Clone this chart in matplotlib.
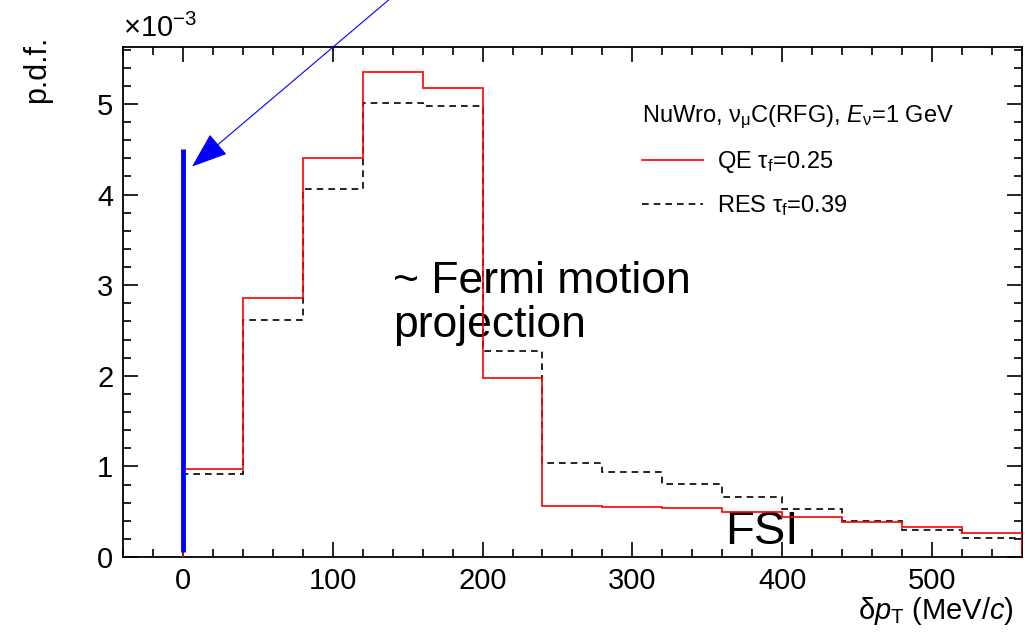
import numpy as np
import matplotlib
matplotlib.use("Agg")
import matplotlib.pyplot as plt
from matplotlib.ticker import MultipleLocator

plt.rcParams['font.family'] = ['Liberation Sans', 'DejaVu Sans']
plt.rcParams['mathtext.fontset'] = 'custom'
plt.rcParams['mathtext.rm'] = 'Liberation Sans'
plt.rcParams['mathtext.it'] = 'Liberation Sans:italic'
plt.rcParams['mathtext.sf'] = 'Liberation Sans'

bin_edges = np.arange(0, 561, 40)
qe_vals = [0.97, 2.86, 4.40, 5.35, 5.18, 1.98, 0.56, 0.55, 0.54, 0.50, 0.44, 0.39, 0.33, 0.27]
res_vals = [0.92, 2.62, 4.06, 5.01, 4.98, 2.27, 1.04, 0.94, 0.81, 0.66, 0.53, 0.40, 0.30, 0.21]
blue_line_x = 0
blue_line_y = [0.05, 4.5]

fig = plt.figure(figsize=(10.25, 6.4), dpi=100)
ax = fig.add_axes([0.12, 0.1297, 0.877, 0.797])

ax.stairs(qe_vals, bin_edges, color='#ff0000', lw=1.2, baseline=0,
          label='QE τ$_{\\mathregular{f}}$=0.25', zorder=3)
ax.stairs(res_vals, bin_edges, color='black', lw=1.2, ls=(0, (4, 3)), baseline=0,
          label='RES τ$_{\\mathregular{f}}$=0.39', zorder=2)
ax.plot([-40, 0], [0, 0], color='#ff6666', lw=1.0, zorder=2)
ax.plot([blue_line_x, blue_line_x], blue_line_y, color='#0000ff', lw=3.5, zorder=4, solid_capstyle='butt')

ax.annotate('', xy=(4.7, 4.29), xytext=(141, 6.2), xycoords='data', textcoords='data',
            arrowprops=dict(arrowstyle='-|>,head_length=2.3,head_width=0.85', color='#0000ff', lw=0.8),
            annotation_clip=False)

ax.set_xlim(-40, 560)
ax.set_ylim(0, 5.63)
ax.xaxis.set_major_locator(MultipleLocator(100))
ax.xaxis.set_minor_locator(MultipleLocator(20))
ax.yaxis.set_major_locator(MultipleLocator(1))
ax.yaxis.set_minor_locator(MultipleLocator(0.2))
ax.tick_params(which='both', direction='in', top=True, right=True, labelsize=21, width=1.2)
ax.tick_params(which='major', length=11, pad=7)
ax.tick_params(which='minor', length=6)
for s in ax.spines.values():
    s.set_linewidth(1.3)

ax.text(0.0, 1.008, r'$\times$10$^{\mathregular{-3}}$', transform=ax.transAxes, fontsize=21, ha='left', va='bottom')
fig.text(0.036, 0.945, 'p.d.f.', rotation=90, fontsize=22, ha='center', va='top')
fig.text(0.989, 0.02, 'δ$p_{\\mathregular{T}}$ (MeV/$c$)', fontsize=21, ha='right', va='bottom')

ax.text(140, 2.91, '~ Fermi motion', fontsize=32, ha='left', va='baseline', zorder=1)
ax.text(140, 2.43, 'projection', fontsize=32, ha='left', va='baseline', zorder=1)
ax.text(362, 0.03, 'FSI', fontsize=34, ha='left', va='bottom', zorder=1)

leg = ax.legend(loc='upper left', bbox_to_anchor=(0.577, 0.888), frameon=False, fontsize=17,
                title='NuWro, ν$_{\\mathregular{μ}}$C(RFG), $E_{\\mathregular{ν}}$=1 GeV', title_fontsize=17,
                handlelength=2.6, handletextpad=0.6, labelspacing=0.75, alignment='left', borderpad=0,
                borderaxespad=0)

fig.savefig('out.png', dpi=100)
